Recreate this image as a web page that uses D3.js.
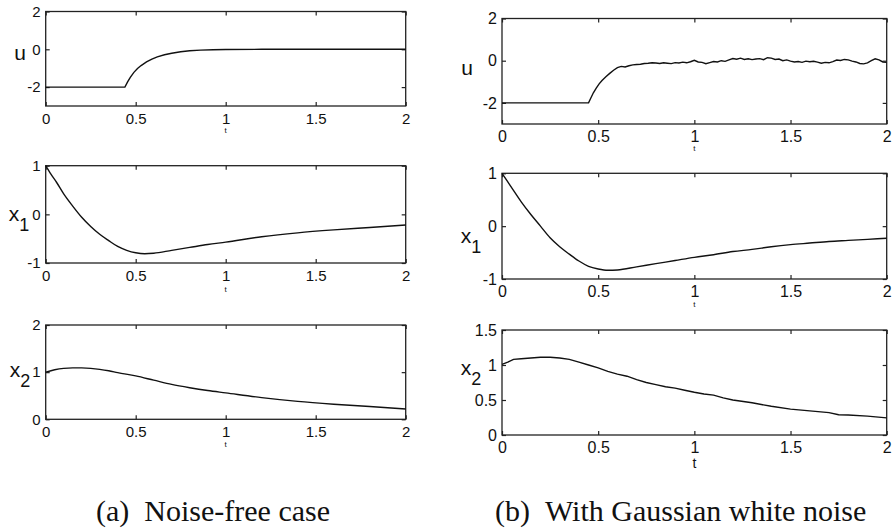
<!DOCTYPE html>
<html>
<head>
<meta charset="utf-8">
<script src="https://cdn.jsdelivr.net/npm/d3@7"></script>
<style>
  body { margin: 0; background: #fff; }
  svg { display: block; }
  .tick text { font-family: "Liberation Sans", Arial, Helvetica, sans-serif; fill: #111; }
  .tick line { stroke: #222; stroke-width: 1.2; }
  .lbl { font-family: "Liberation Sans", Arial, Helvetica, sans-serif; fill: #111; }
  .caption { font-family: "Liberation Serif", "Times New Roman", Times, serif; fill: #111; }
</style>
</head>
<body>
<div id="root"></div>
<script>
// ---- data ----
const tickT = [0, 0.5, 1, 1.5, 2];

// (a) noise-free case
const tUa = [0, 0.44, 0.455, 0.47, 0.49, 0.51, 0.53, 0.56, 0.59, 0.62, 0.66, 0.7, 0.75, 0.8, 0.86, 0.93, 1.0, 1.2, 1.5, 2.0];
const uA  = [-2, -2, -1.72, -1.48, -1.22, -1.02, -0.86, -0.67, -0.52, -0.4, -0.29, -0.21, -0.13, -0.08, -0.045, -0.02, -0.01, 0, 0, 0];

const tXa = [0, 0.03, 0.06, 0.1, 0.15, 0.2, 0.25, 0.3, 0.35, 0.4, 0.45, 0.5, 0.55, 0.6, 0.7, 0.8, 0.9, 1.0, 1.2, 1.4, 1.6, 1.8, 2.0];
const x1A = [1, 0.82, 0.66, 0.42, 0.17, -0.06, -0.25, -0.41, -0.54, -0.66, -0.74, -0.79, -0.81, -0.8, -0.74, -0.68, -0.62, -0.57, -0.46, -0.38, -0.32, -0.27, -0.22];

const tX2a = [0, 0.05, 0.1, 0.15, 0.2, 0.25, 0.3, 0.35, 0.4, 0.5, 0.6, 0.7, 0.8, 0.9, 1.0, 1.2, 1.4, 1.6, 1.8, 2.0];
const x2A  = [1.0, 1.05, 1.08, 1.09, 1.09, 1.08, 1.06, 1.03, 0.99, 0.92, 0.83, 0.74, 0.67, 0.61, 0.56, 0.46, 0.38, 0.32, 0.27, 0.22];

// (b) with gaussian white noise
const tUb = [0, 0.45, 0.46, 0.475, 0.49, 0.505, 0.52, 0.54, 0.56, 0.58, 0.6, 0.62, 0.64, 0.66, 0.68, 0.7, 0.72, 0.74, 0.76, 0.78,
  0.8, 0.82, 0.84, 0.86, 0.88, 0.9, 0.92, 0.94, 0.96, 0.98, 1.0, 1.02, 1.04, 1.06, 1.08, 1.1, 1.12, 1.14, 1.16, 1.18,
  1.2, 1.22, 1.24, 1.26, 1.28, 1.3, 1.32, 1.34, 1.36, 1.38, 1.4, 1.42, 1.44, 1.46, 1.48, 1.5, 1.52, 1.54, 1.56, 1.58,
  1.6, 1.62, 1.64, 1.66, 1.68, 1.7, 1.72, 1.74, 1.76, 1.78, 1.8, 1.82, 1.84, 1.86, 1.88, 1.9, 1.92, 1.94, 1.96, 1.98, 2.0];
const uB = [-2, -2, -1.8, -1.52, -1.3, -1.1, -0.94, -0.76, -0.6, -0.45, -0.33, -0.27, -0.3, -0.24, -0.2, -0.18, -0.17, -0.13, -0.12, -0.1,
  -0.11, -0.13, -0.1, -0.12, -0.14, -0.09, -0.11, -0.07, -0.1, -0.05, 0.02, -0.06, -0.08, -0.14, -0.09, -0.04, -0.06, 0.0, -0.03, 0.04,
  0.1, 0.07, 0.12, 0.06, 0.09, 0.05, 0.08, 0.1, 0.05, 0.14, 0.12, 0.06, 0.08, 0.0, 0.04, -0.02, -0.06, -0.04, -0.08, -0.02,
  -0.05, -0.03, -0.07, -0.12, -0.08, -0.1, -0.04, 0.03, 0.01, 0.06, 0.04, -0.02, -0.06, -0.13, -0.15, -0.1, 0.0, 0.09, 0.04, -0.06, -0.08];

const tX1b = [0, 0.05, 0.1, 0.15, 0.2, 0.25, 0.3, 0.35, 0.4, 0.45, 0.5, 0.55, 0.6, 0.7, 0.8, 0.9, 1.0, 1.1, 1.2, 1.3, 1.4, 1.5, 1.6, 1.7, 1.8, 1.9, 2.0];
const x1B  = [1, 0.73, 0.46, 0.22, 0.0, -0.22, -0.39, -0.53, -0.66, -0.76, -0.81, -0.835, -0.83, -0.77, -0.71, -0.65, -0.59, -0.54, -0.48, -0.44, -0.39, -0.35, -0.32, -0.29, -0.27, -0.25, -0.23];

const tX2b = [0, 0.03, 0.06, 0.1, 0.15, 0.2, 0.25, 0.3, 0.35, 0.4, 0.45, 0.5, 0.55, 0.6, 0.65, 0.7, 0.75, 0.8, 0.85, 0.9, 0.95,
  1.0, 1.05, 1.1, 1.15, 1.2, 1.3, 1.4, 1.5, 1.6, 1.7, 1.75, 1.8, 1.9, 2.0];
const x2B  = [1.01, 1.04, 1.08, 1.09, 1.1, 1.11, 1.11, 1.1, 1.08, 1.04, 1.0, 0.96, 0.91, 0.87, 0.84, 0.79, 0.75, 0.72, 0.69, 0.67, 0.64,
  0.61, 0.585, 0.57, 0.53, 0.5, 0.46, 0.41, 0.37, 0.345, 0.32, 0.29, 0.285, 0.27, 0.245];

const captions = ["(a)\u00a0\u00a0Noise-free case", "(b)\u00a0\u00a0With Gaussian white noise"];

// ---- layout ----
let width = 893, height = 528;

let svg = d3.select('#root').append('svg')
    .attr('width', width)
    .attr('height', height)
    .style('background', '#fff');

let panels = [
    { x: 45.7, y: 11.5, w: 360, h: 94.5, yDom: [-3, 2], yTicks: [-2, 0, 2], t: tUa, v: uA, lab: 'u', sub: null, lx: 20, ly: 60, fs: 15, curve: d3.curveLinear, tY: 133, tFs: 8 },
    { x: 45.7, y: 165.7, w: 360, h: 97.3, yDom: [-1, 1], yTicks: [-1, 0, 1], t: tXa, v: x1A, lab: 'x', sub: '1', lx: 19, ly: 221, fs: 15, curve: d3.curveMonotoneX, tY: 292, tFs: 8 },
    { x: 45.7, y: 325, w: 360, h: 94.3, yDom: [0, 2], yTicks: [0, 1, 2], t: tX2a, v: x2A, lab: 'x', sub: '2', lx: 20, ly: 377, fs: 15, curve: d3.curveMonotoneX, tY: 447, tFs: 8 },
    { x: 502, y: 18.5, w: 384.7, h: 105.5, yDom: [-3, 2], yTicks: [-2, 0, 2], t: tUb, v: uB, lab: 'u', sub: null, lx: 467, ly: 75, fs: 16, curve: d3.curveLinear, tY: 151, tFs: 8 },
    { x: 502, y: 173.3, w: 384.7, h: 105.7, yDom: [-1, 1], yTicks: [-1, 0, 1], t: tX1b, v: x1B, lab: 'x', sub: '1', lx: 471, ly: 243, fs: 16, curve: d3.curveMonotoneX, tY: 307, tFs: 8 },
    { x: 502, y: 330, w: 384.7, h: 105, yDom: [0, 1.5], yTicks: [0, 0.5, 1, 1.5], t: tX2b, v: x2B, lab: 'x', sub: '2', lx: 471, ly: 375, fs: 16, curve: d3.curveLinear, tY: 468, tFs: 14 }
];

let fmt = d => String(d);

panels.forEach(function (p) {
    let g = svg.append('g').attr('transform', 'translate(' + p.x + ',' + p.y + ')');

    let xScale = d3.scaleLinear().domain([0, 2]).range([0, p.w]);
    let yScale = d3.scaleLinear().domain(p.yDom).range([p.h, 0]);

    // inward ticks on all four sides, like matlab
    let bottom = g.append('g').attr('transform', 'translate(0,' + p.h + ')')
        .call(d3.axisBottom(xScale).tickValues(tickT).tickSize(-4).tickPadding(7).tickFormat(fmt));
    let top = g.append('g')
        .call(d3.axisTop(xScale).tickValues(tickT).tickSize(-4).tickFormat(''));
    let left = g.append('g')
        .call(d3.axisLeft(yScale).tickValues(p.yTicks).tickSize(-4).tickPadding(5).tickFormat(fmt));
    let right = g.append('g').attr('transform', 'translate(' + p.w + ',0)')
        .call(d3.axisRight(yScale).tickValues(p.yTicks).tickSize(-4).tickFormat(''));

    [bottom, top, left, right].forEach(a => {
        a.select('.domain').remove();
        a.attr('font-family', null);
    });
    bottom.selectAll('text').attr('font-size', p.fs).attr('dy', '0.71em');
    left.selectAll('text').attr('font-size', p.fs);

    g.append('rect')
        .attr('width', p.w).attr('height', p.h)
        .attr('fill', 'none').attr('stroke', '#222').attr('stroke-width', 1.3);

    let pts = p.t.map((t, i) => [t, p.v[i]]);
    g.append('path')
        .datum(pts)
        .attr('fill', 'none')
        .attr('stroke', '#111')
        .attr('stroke-width', 1.4)
        .attr('d', d3.line().x(d => xScale(d[0])).y(d => yScale(d[1])).curve(p.curve));

    // tiny "t" axis label
    svg.append('text')
        .attr('class', 'lbl')
        .attr('x', p.x + p.w / 2).attr('y', p.tY)
        .attr('text-anchor', 'middle')
        .style('font-size', p.tFs + 'px')
        .text('t');

    // y label with optional subscript
    let lbl = svg.append('text')
        .attr('class', 'lbl')
        .attr('x', p.lx).attr('y', p.ly)
        .attr('text-anchor', 'middle')
        .style('font-size', '21px')
        .text(p.lab);
    if (p.sub) {
        lbl.append('tspan').attr('dy', 10).style('font-size', '18px').text(p.sub);
    }
});

svg.selectAll('.caption')
    .data(captions)
    .enter()
    .append('text')
    .attr('class', 'caption')
    .attr('x', (d, i) => i == 0 ? 96 : 495)
    .attr('y', 521)
    .style('font-size', '30px')
    .text(d => d);
</script>
</body>
</html>
